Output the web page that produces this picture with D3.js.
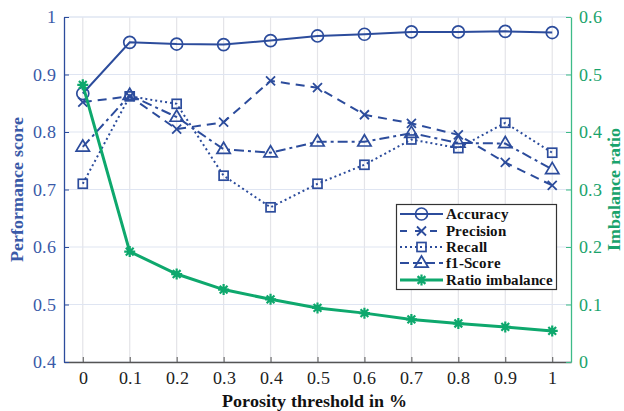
<!DOCTYPE html>
<html><head><meta charset="utf-8">
<script src="https://cdn.jsdelivr.net/npm/d3@7"></script>
<style>
@font-face{font-family:"ChartSerif";src:local("Liberation Serif"),local("LiberationSerif");font-weight:normal;}
@font-face{font-family:"ChartSerif";src:local("Liberation Serif Bold"),local("LiberationSerif-Bold");font-weight:bold;}
body{margin:0;background:#fff}
</style>
</head><body><svg id="c" width="624" height="411"></svg>
<script>
const thresholds = [0,0.1,0.2,0.3,0.4,0.5,0.6,0.7,0.8,0.9,1];
const xTickLabels = ["0","0.1","0.2","0.3","0.4","0.5","0.6","0.7","0.8","0.9","1"];
const accuracy  = [0.867,0.956,0.953,0.952,0.959,0.967,0.970,0.974,0.974,0.975,0.973];
const precision = [0.852,0.862,0.805,0.817,0.889,0.877,0.830,0.815,0.795,0.747,0.707];
const recall    = [0.710,0.862,0.849,0.724,0.669,0.710,0.743,0.787,0.772,0.816,0.764];
const f1score   = [0.774,0.864,0.826,0.770,0.764,0.783,0.783,0.798,0.781,0.780,0.735];
const ratioImbalance = [0.482,0.192,0.153,0.126,0.109,0.094,0.085,0.074,0.067,0.061,0.054];
const leftTicks = [0.4,0.5,0.6,0.7,0.8,0.9,1];
const rightTicks = [0,0.1,0.2,0.3,0.4,0.5,0.6];

const BLUE="#2c4c9c", GREEN="#0ea86d", GREENAX="#3dbb88";
const svg=d3.select("#c");
function serif(sel){return sel.style("font-family","ChartSerif, \"Liberation Serif\", serif");}
const L=64,R=571,T=17,B=362;
const x=d3.scaleLinear().domain([-0.04,1.04]).range([L,R]);
const yL=d3.scaleLinear().domain([0.4,1]).range([B,T]);
const yR=d3.scaleLinear().domain([0,0.6]).range([B,T]);

// grid
svg.append("g").selectAll("line").data(thresholds).join("line")
 .attr("x1",d=>x(d)).attr("x2",d=>x(d)).attr("y1",T).attr("y2",B)
 .attr("stroke","#e4e4e8").attr("stroke-width",1.2);
svg.append("g").selectAll("line").data(leftTicks).join("line")
 .attr("x1",L).attr("x2",R).attr("y1",d=>yL(d)).attr("y2",d=>yL(d))
 .attr("stroke","#dfe5f2").attr("stroke-width",1.2);
svg.append("line").attr("x1",L).attr("x2",R).attr("y1",T).attr("y2",T).attr("stroke","#dfe5f2").attr("stroke-width",1.2);

// axes
const ax=svg.append("g").attr("transform",`translate(0,${B})`)
 .call(d3.axisBottom(x).tickValues(thresholds).tickFormat((d,i)=>xTickLabels[i]).tickSizeInner(-5).tickSizeOuter(0).tickPadding(9));
ax.attr("font-family",null).attr("font-size",null);
ax.select(".domain").attr("stroke","#555").attr("stroke-width",1.3);
ax.selectAll(".tick line").attr("stroke","#555");
serif(ax.selectAll("text")).attr("font-size",18).attr("fill","#222");

const al=svg.append("g").attr("transform",`translate(${L},0)`)
 .call(d3.axisLeft(yL).tickValues(leftTicks).tickFormat(d3.format("~g")).tickSizeInner(-5).tickSizeOuter(0).tickPadding(8));
al.attr("font-family",null).attr("font-size",null);
al.select(".domain").attr("stroke",BLUE).attr("stroke-width",1.3);
al.selectAll(".tick line").attr("stroke",BLUE);
serif(al.selectAll("text")).attr("font-size",18).attr("fill","#3a5aa8");

const ar=svg.append("g").attr("transform",`translate(${R},0)`)
 .call(d3.axisRight(yR).tickValues(rightTicks).tickFormat(d3.format("~g")).tickSizeInner(-5).tickSizeOuter(0).tickPadding(8));
ar.attr("font-family",null).attr("font-size",null);
ar.select(".domain").attr("stroke",GREENAX).attr("stroke-width",1.3);
ar.selectAll(".tick line").attr("stroke",GREENAX);
serif(ar.selectAll("text")).attr("font-size",18).attr("fill","#1aa36c");

// axis labels
function label(t){return serif(t).attr("font-weight","bold").attr("font-size",18).attr("text-anchor","middle");}
label(svg.append("text").attr("transform",`translate(23,${(T+B)/2}) rotate(-90)`)).attr("fill","#3a5aa8").text("Performance score");
label(svg.append("text").attr("transform",`translate(620,${(T+B)/2}) rotate(-90)`)).attr("fill","#1aa36c").text("Imbalance ratio");
label(svg.append("text").attr("x",(L+R)/2-3).attr("y",407)).attr("fill","#111").text("Porosity threshold in %");

// markers
function marker(g,type,cx,cy,color){
  if(type==="circle") g.append("circle").attr("cx",cx).attr("cy",cy).attr("r",6).attr("fill","none").attr("stroke",color).attr("stroke-width",1.7);
  else if(type==="x"){const s=4.5;g.append("path").attr("d",`M${cx-s},${cy-s}L${cx+s},${cy+s}M${cx-s},${cy+s}L${cx+s},${cy-s}`).attr("stroke",color).attr("stroke-width",1.8);}
  else if(type==="square"){const s=4.5;g.append("rect").attr("x",cx-s).attr("y",cy-s).attr("width",2*s).attr("height",2*s).attr("fill","none").attr("stroke",color).attr("stroke-width",1.7);}
  else if(type==="tri"){const s=7;g.append("path").attr("d",`M${cx},${cy-s}L${cx+s*0.95},${cy+s*0.6}L${cx-s*0.95},${cy+s*0.6}Z`).attr("fill","none").attr("stroke",color).attr("stroke-width",1.7);}
  else if(type==="star"){const s=5.5;let d="";for(let k=0;k<4;k++){const a=k*Math.PI/4;d+=`M${cx-s*Math.cos(a)},${cy-s*Math.sin(a)}L${cx+s*Math.cos(a)},${cy+s*Math.sin(a)}`;}
    g.append("path").attr("d",d).attr("stroke",color).attr("stroke-width",2.2);
    g.append("circle").attr("cx",cx).attr("cy",cy).attr("r",2.5).attr("fill",color);}
}
const series=[
 {name:"Accuracy",vals:accuracy,dash:null,m:"circle",c:BLUE,w:2,sc:yL},
 {name:"Precision",vals:precision,dash:"9,6",m:"x",c:BLUE,w:2,sc:yL},
 {name:"Recall",vals:recall,dash:"2,3",m:"square",c:BLUE,w:2,sc:yL},
 {name:"f1-Score",vals:f1score,dash:"10,4,3,4",m:"tri",c:BLUE,w:2,sc:yL},
 {name:"Ratio imbalance",vals:ratioImbalance,dash:null,m:"star",c:GREEN,w:3,sc:yR}
];
const plot=svg.append("g");
series.forEach(s=>{
  const g=plot.append("g");
  const line=d3.line().x((d,i)=>x(thresholds[i])).y(d=>s.sc(d));
  g.append("path").attr("d",line(s.vals)).attr("fill","none").attr("stroke",s.c).attr("stroke-width",s.w)
   .attr("stroke-dasharray",s.dash);
  s.vals.forEach((v,i)=>marker(g,s.m,x(thresholds[i]),s.sc(v),s.c));
});

// legend
const lg=svg.append("g");
lg.append("rect").attr("x",396.5).attr("y",204.5).attr("width",160).attr("height",85).attr("fill","#fff").attr("stroke","#333").attr("stroke-width",1.2);
const rowY=[214,231,247,263,280];
series.forEach((s,i)=>{
  const yy=rowY[i];
  lg.append("line").attr("x1",400).attr("x2",443).attr("y1",yy).attr("y2",yy).attr("stroke",s.c).attr("stroke-width",s.w)
   .attr("stroke-dasharray",s.dash? (s.m==="x"?"7,8":s.m==="square"?"2,3":"9,4"):null);
  marker(lg,s.m,421.5,yy,s.c);
  serif(lg.append("text")).attr("x",446).attr("y",yy+5).attr("font-weight","bold").attr("font-size",15).attr("fill","#111").text(s.name);
});
</script></body></html>
